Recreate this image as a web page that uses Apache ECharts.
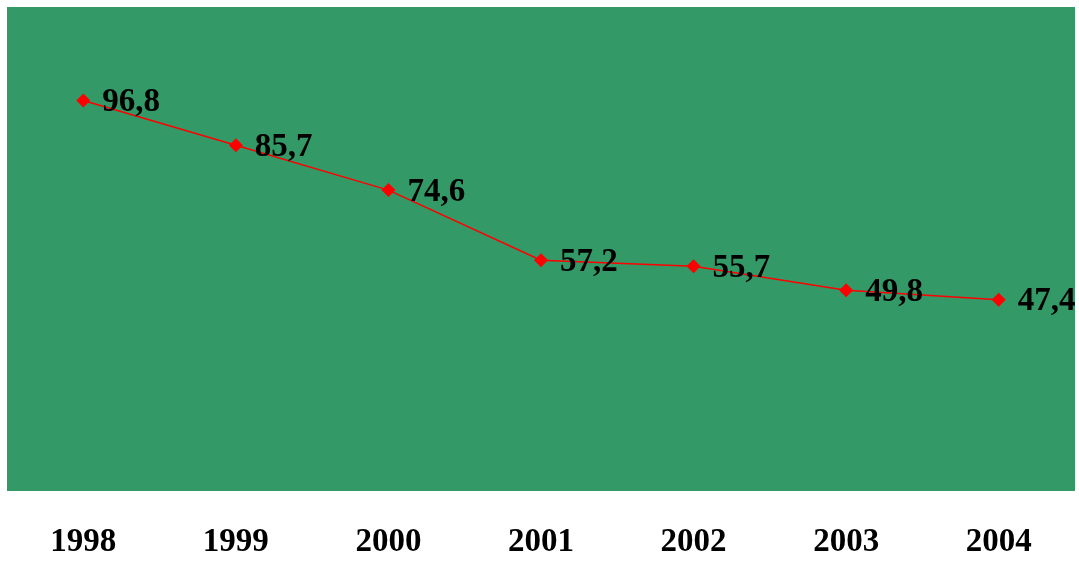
<!DOCTYPE html>
<html>
<head>
<meta charset="utf-8">
<script src="https://cdn.jsdelivr.net/npm/echarts@6/dist/echarts.min.js"></script>
<style>
html,body{margin:0;padding:0;background:#fff;}
#c{width:1079px;height:561px;}
</style>
</head>
<body>
<div id="c"></div>
<script>
var years = ['1998','1999','2000','2001','2002','2003','2004'];
var values = [96.8, 85.7, 74.6, 57.2, 55.7, 49.8, 47.4];

var chart = echarts.init(document.getElementById('c'), null, {renderer:'canvas'});
chart.setOption({
  backgroundColor: '#ffffff',
  animation: false,
  grid: {left: 7, right: 4, top: 7, bottom: 70, show: true, backgroundColor: '#339966', borderWidth: 0},
  xAxis: {
    type: 'category',
    data: years,
    boundaryGap: true,
    axisLine: {show: false},
    axisTick: {show: false},
    splitLine: {show: false},
    axisLabel: {
      margin: 35,
      color: '#000',
      fontFamily: '"Liberation Serif", "Times New Roman", serif',
      fontWeight: 'bold',
      fontSize: 33
    }
  },
  yAxis: {
    type: 'value',
    min: 0,
    max: 120,
    show: false,
    splitLine: {show: false}
  },
  series: [{
    type: 'line',
    data: values,
    symbol: 'diamond',
    symbolSize: 14,
    itemStyle: {color: '#ff0000'},
    lineStyle: {color: '#ff0000', width: 1.5},
    label: {
      show: true,
      position: 'right',
      distance: 12,
      offset: [0, 2],
      color: '#000',
      fontFamily: '"Liberation Serif", "Times New Roman", serif',
      fontWeight: 'bold',
      fontSize: 33,
      formatter: function(p){ return String(p.value).replace('.', ','); }
    }
  }]
});
</script>
</body>
</html>
